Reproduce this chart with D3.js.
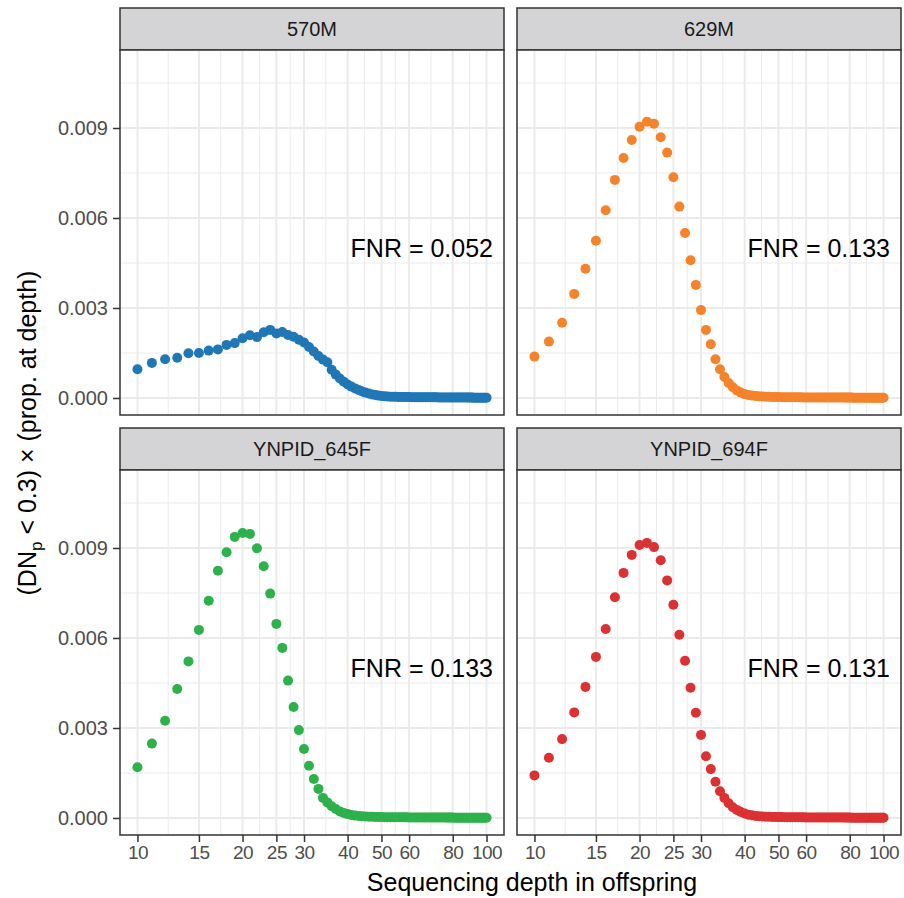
<!DOCTYPE html>
<html>
<head>
<meta charset="utf-8">
<script src="https://cdn.jsdelivr.net/npm/d3@7"></script>
<style>
  html, body { margin: 0; padding: 0; background: #ffffff; }
  svg { display: block; font-family: 'Liberation Sans', Arial, Helvetica, sans-serif; }
</style>
</head>
<body>
<svg id="chart" width="904" height="898"></svg>
<script>
// depth 10..100, one point per integer depth
const depths = d3.range(10, 101);

const samples = ['570M', '629M', 'YNPID_645F', 'YNPID_694F'];
const fnrLabels = ['FNR = 0.052', 'FNR = 0.133', 'FNR = 0.133', 'FNR = 0.131'];

const values570M = [
  0.00096, 0.00117, 0.00129, 0.00134, 0.00149, 0.00150, 0.00158, 0.00162, 0.00177, 0.00183,
  0.00199, 0.00209, 0.00203, 0.00219, 0.00227, 0.00215, 0.00220, 0.00210, 0.00204, 0.00194,
  0.00185, 0.00170, 0.00155, 0.00140, 0.00128, 0.00119, 0.00094, 0.00078, 0.00065, 0.00054,
  0.00045, 0.00038, 0.00032, 0.00027, 0.00022, 0.00018, 0.00015, 0.00012, 0.00010, 0.00008,
  0.00007, 0.00006, 0.00005, 0.000045, 0.00004, 0.000038, 0.000036, 0.000034, 0.000032, 0.00003,
  0.000029, 0.000028, 0.000027, 0.000026, 0.000026, 0.000025, 0.000024, 0.000024, 0.000023, 0.000022,
  0.000022, 0.000021, 0.000021, 0.00002, 0.00002, 0.000019, 0.000019, 0.000018, 0.000018, 0.000017,
  0.000017, 0.000016, 0.000016, 0.000016, 0.000015, 0.000015, 0.000014, 0.000014, 0.000014, 0.000013,
  0.000013, 0.000013, 0.000012, 0.000012, 0.000012, 0.000011, 0.000011, 0.000011, 0.00001, 0.00001,
  0.00001
];

const values629M = [
  0.00138, 0.00188, 0.00251, 0.00347, 0.00431, 0.00524, 0.00626, 0.00727, 0.00800, 0.00860,
  0.00904, 0.00921, 0.00914, 0.00869, 0.00818, 0.00736, 0.00638, 0.00550, 0.00459, 0.00377,
  0.00293, 0.00227, 0.00179, 0.00129, 0.00096, 0.00070, 0.00050, 0.00036, 0.00025, 0.00018,
  0.00013, 0.00010, 0.00008, 0.000065, 0.000055, 0.000048, 0.000042, 0.000038, 0.000034, 0.000031,
  0.000029, 0.000027, 0.000026, 0.000025, 0.000024, 0.000023, 0.000022, 0.000021, 0.000021, 0.00002,
  0.00002, 0.000019, 0.000019, 0.000018, 0.000018, 0.000017, 0.000017, 0.000017, 0.000016, 0.000016,
  0.000016, 0.000015, 0.000015, 0.000015, 0.000014, 0.000014, 0.000014, 0.000014, 0.000013, 0.000013,
  0.000013, 0.000013, 0.000012, 0.000012, 0.000012, 0.000012, 0.000011, 0.000011, 0.000011, 0.000011,
  0.000011, 0.00001, 0.00001, 0.00001, 0.00001, 0.00001, 0.000009, 0.000009, 0.000009, 0.000009,
  0.000009
];

const values645F = [
  0.00169, 0.00248, 0.00324, 0.00430, 0.00522, 0.00627, 0.00724, 0.00824, 0.00886, 0.00937,
  0.00950, 0.00947, 0.00899, 0.00839, 0.00748, 0.00647, 0.00567, 0.00458, 0.00370, 0.00293,
  0.00230, 0.00174, 0.00130, 0.00097, 0.00067, 0.00052, 0.00039, 0.00030, 0.00022, 0.00017,
  0.00013, 0.00010, 0.00008, 0.000065, 0.000055, 0.000048, 0.000043, 0.000039, 0.000035, 0.000032,
  0.00003, 0.000028, 0.000027, 0.000026, 0.000025, 0.000024, 0.000023, 0.000022, 0.000021, 0.000021,
  0.00002, 0.00002, 0.000019, 0.000019, 0.000018, 0.000018, 0.000017, 0.000017, 0.000016, 0.000016,
  0.000016, 0.000015, 0.000015, 0.000015, 0.000014, 0.000014, 0.000014, 0.000013, 0.000013, 0.000013,
  0.000013, 0.000012, 0.000012, 0.000012, 0.000012, 0.000011, 0.000011, 0.000011, 0.000011, 0.00001,
  0.00001, 0.00001, 0.00001, 0.00001, 0.000009, 0.000009, 0.000009, 0.000009, 0.000009, 0.000008,
  0.000008
];

const values694F = [
  0.00142, 0.00201, 0.00263, 0.00352, 0.00437, 0.00537, 0.00630, 0.00736, 0.00817, 0.00877,
  0.00910, 0.00917, 0.00903, 0.00859, 0.00792, 0.00711, 0.00611, 0.00524, 0.00434, 0.00351,
  0.00277, 0.00206, 0.00163, 0.00121, 0.00089, 0.00067, 0.00049, 0.00036, 0.00027, 0.00020,
  0.00015, 0.00011, 0.00009, 0.00007, 0.00006, 0.00005, 0.000044, 0.00004, 0.000036, 0.000033,
  0.00003, 0.000029, 0.000027, 0.000026, 0.000025, 0.000024, 0.000023, 0.000022, 0.000022, 0.000021,
  0.00002, 0.00002, 0.000019, 0.000019, 0.000018, 0.000018, 0.000017, 0.000017, 0.000017, 0.000016,
  0.000016, 0.000015, 0.000015, 0.000015, 0.000014, 0.000014, 0.000014, 0.000014, 0.000013, 0.000013,
  0.000013, 0.000012, 0.000012, 0.000012, 0.000012, 0.000011, 0.000011, 0.000011, 0.000011, 0.00001,
  0.00001, 0.00001, 0.00001, 0.00001, 0.00001, 0.000009, 0.000009, 0.000009, 0.000009, 0.000009,
  0.000009
];

const seriesValues = [values570M, values629M, values645F, values694F];

const xTicks = [10, 15, 20, 25, 30, 40, 50, 60, 80, 100];
const yTicks = [0, 0.003, 0.006, 0.009];
const yMinorTicks = [0.0015, 0.0045, 0.0075, 0.0105];

const COLORS = ['#2077b6', '#f5832c', '#2db14b', '#dc3132'];

const PANEL_W = 384;
const PLOT_H = 365;
const STRIP_H = 42;
const colX = [120, 517];
const rowY = [8, 428];

const svg = d3.select('#chart');

const xScale = d3
  .scaleLog()
  .domain([Math.pow(10, 0.95), Math.pow(10, 2.05)])
  .range([0, PANEL_W]);

const yScale = d3
  .scaleLinear()
  .domain([-0.000567, 0.0116])
  .range([PLOT_H, 0]);

// ggplot puts minor breaks halfway between majors (in log space here)
const xMinorTicks = xTicks.slice(1).map((t, i) => Math.sqrt(t * xTicks[i]));

function drawPanel(i) {
  const col = i % 2;
  const row = Math.floor(i / 2);
  const left = colX[col];
  const top = rowY[row];

  const g = svg.append('g').attr('transform', `translate(${left}, ${top})`);

  // strip
  g.append('rect')
    .attr('x', 0)
    .attr('y', 0)
    .attr('width', PANEL_W)
    .attr('height', STRIP_H)
    .attr('fill', '#d4d4d6')
    .attr('stroke', '#333333')
    .attr('stroke-width', 1.5);

  g.append('text')
    .attr('x', PANEL_W / 2)
    .attr('y', STRIP_H / 2)
    .attr('dy', '0.35em')
    .attr('text-anchor', 'middle')
    .attr('fill', '#1a1a1a')
    .style('font-size', '20px')
    .text(samples[i]);

  const plot = g.append('g').attr('transform', `translate(0, ${STRIP_H})`);

  plot.append('rect')
    .attr('width', PANEL_W)
    .attr('height', PLOT_H)
    .attr('fill', '#ffffff');

  // minor grid
  plot.append('g')
    .selectAll('line')
    .data(xMinorTicks)
    .join('line')
    .attr('x1', (d) => xScale(d))
    .attr('x2', (d) => xScale(d))
    .attr('y1', 0)
    .attr('y2', PLOT_H)
    .attr('stroke', '#ebebeb')
    .attr('stroke-width', 1);

  plot.append('g')
    .selectAll('line')
    .data(yMinorTicks)
    .join('line')
    .attr('x1', 0)
    .attr('x2', PANEL_W)
    .attr('y1', (d) => yScale(d))
    .attr('y2', (d) => yScale(d))
    .attr('stroke', '#ebebeb')
    .attr('stroke-width', 1);

  // major grid
  plot.append('g')
    .selectAll('line')
    .data(xTicks)
    .join('line')
    .attr('x1', (d) => xScale(d))
    .attr('x2', (d) => xScale(d))
    .attr('y1', 0)
    .attr('y2', PLOT_H)
    .attr('stroke', '#ebebeb')
    .attr('stroke-width', 2);

  plot.append('g')
    .selectAll('line')
    .data(yTicks)
    .join('line')
    .attr('x1', 0)
    .attr('x2', PANEL_W)
    .attr('y1', (d) => yScale(d))
    .attr('y2', (d) => yScale(d))
    .attr('stroke', '#ebebeb')
    .attr('stroke-width', 2);

  // points
  const points = depths.map((d, k) => ({ x: d, y: seriesValues[i][k] }));

  plot.append('g')
    .selectAll('circle')
    .data(points)
    .join('circle')
    .attr('cx', (d) => xScale(d.x))
    .attr('cy', (d) => yScale(d.y))
    .attr('r', 5)
    .attr('fill', COLORS[i]);

  plot.append('text')
    .attr('x', PANEL_W - 11)
    .attr('y', yScale(0.005))
    .attr('dy', '0.35em')
    .attr('text-anchor', 'end')
    .attr('fill', '#000000')
    .style('font-size', '25px')
    .text(fnrLabels[i]);

  plot.append('rect')
    .attr('width', PANEL_W)
    .attr('height', PLOT_H)
    .attr('fill', 'none')
    .attr('stroke', '#333333')
    .attr('stroke-width', 1.5);

  // axes only on outer panels
  if (col === 0) {
    const yAxis = plot.append('g')
      .call(
        d3.axisLeft(yScale)
          .tickValues(yTicks)
          .tickFormat(d3.format('.3f'))
          .tickSize(7)
          .tickSizeOuter(0)
          .tickPadding(5)
      );
    yAxis.select('.domain').remove();
    yAxis.selectAll('line').attr('stroke', '#333333').attr('stroke-width', 1.5);
    yAxis.selectAll('text')
      .attr('fill', '#4d4d4d')
      .style('font-size', '20px')
      .style('font-family', "'Liberation Sans', Arial, sans-serif");
  }

  if (row === 1) {
    const xAxis = plot.append('g')
      .attr('transform', `translate(0, ${PLOT_H})`)
      .call(
        d3.axisBottom(xScale)
          .tickValues(xTicks)
          .tickFormat(d3.format('d'))
          .tickSize(7)
          .tickSizeOuter(0)
          .tickPadding(4)
      );
    xAxis.select('.domain').remove();
    xAxis.selectAll('line').attr('stroke', '#333333').attr('stroke-width', 1.5);
    xAxis.selectAll('text')
      .attr('fill', '#4d4d4d')
      .style('font-size', '19px')
      .style('letter-spacing', '-0.5px')
      .style('font-family', "'Liberation Sans', Arial, sans-serif");
  }
}

samples.forEach((_, i) => drawPanel(i));

// axis titles
svg.append('text')
  .attr('x', 532)
  .attr('y', 891)
  .attr('text-anchor', 'middle')
  .attr('fill', '#000000')
  .style('font-size', '25px')
  .text('Sequencing depth in offspring');

const yTitle = svg.append('text')
  .attr('transform', 'translate(36, 433) rotate(-90)')
  .attr('text-anchor', 'middle')
  .attr('fill', '#000000')
  .style('font-size', '25px');

yTitle.append('tspan').text('(DN');
yTitle.append('tspan')
  .attr('dy', 6)
  .style('font-size', '17px')
  .text('p');
yTitle.append('tspan')
  .attr('dy', -6)
  .text(' < 0.3) \u00d7 (prop. at depth)');
</script>
</body>
</html>
